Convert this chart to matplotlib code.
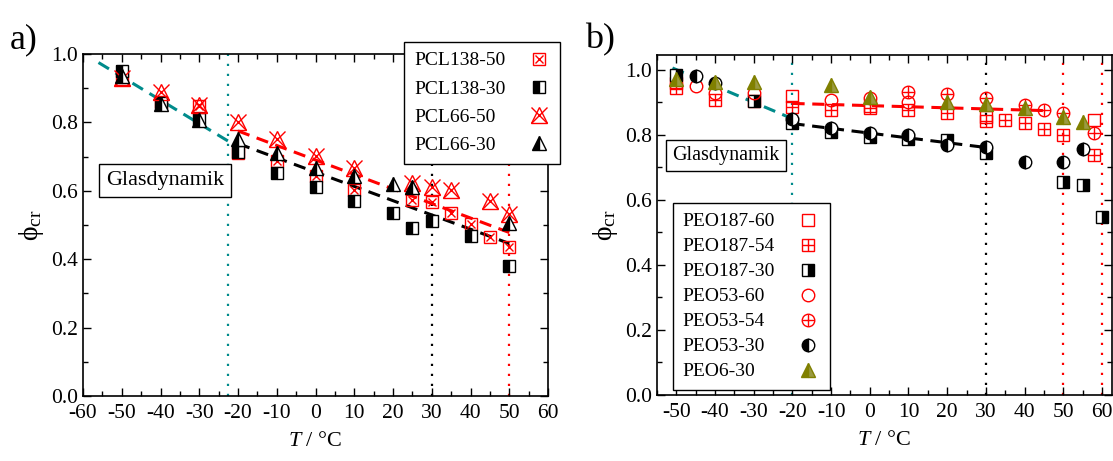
import numpy as np
import matplotlib
matplotlib.use('Agg')
import matplotlib.pyplot as plt
from matplotlib.ticker import MultipleLocator
from matplotlib.legend_handler import HandlerTuple

plt.rcParams['font.family'] = ['Liberation Serif', 'DejaVu Serif']
plt.rcParams['mathtext.fontset'] = 'custom'
plt.rcParams['mathtext.rm'] = 'Liberation Serif'
plt.rcParams['mathtext.it'] = 'Liberation Serif:italic'
plt.rcParams['axes.unicode_minus'] = False

RED = '#ff0000'
TEAL = '#008b8b'
OLIVE = '#808000'

# ---- panel a) PCL data ----
pcl138_50_T = [-50, -40, -30, -20, -10, 0, 10, 25, 30, 35, 40, 45, 50]
pcl138_50_p = [0.928, 0.860, 0.848, 0.710, 0.688, 0.644, 0.603, 0.574, 0.566, 0.536, 0.504, 0.464, 0.437]
pcl138_30_T = [-50, -40, -30, -20, -10, 0, 10, 20, 25, 30, 40, 50]
pcl138_30_p = [0.950, 0.857, 0.810, 0.712, 0.653, 0.612, 0.571, 0.536, 0.490, 0.513, 0.468, 0.379]
pcl66_50_T = [-50, -40, -30, -20, -10, 0, 10, 25, 30, 35, 45, 50]
pcl66_50_p = [0.930, 0.889, 0.850, 0.802, 0.752, 0.703, 0.668, 0.624, 0.612, 0.603, 0.571, 0.533]
pcl66_30_T = [-50, -40, -30, -20, -10, 0, 10, 20, 25, 50]
pcl66_30_p = [0.935, 0.855, 0.808, 0.752, 0.711, 0.668, 0.644, 0.621, 0.610, 0.507]

fit_a_glass_T = [-56, -22.5]
fit_a_glass_p = [0.975, 0.745]
fit_a_red_T = [-20, 50]
fit_a_red_p = [0.775, 0.478]
fit_a_black_T = [-20, 50]
fit_a_black_p = [0.738, 0.446]
vlines_a = [(-22.5, TEAL), (30, 'black'), (50, RED)]

# ---- panel b) PEO data ----
peo187_60_T = [-50, -20, 0, 30, 58]
peo187_60_p = [0.960, 0.920, 0.890, 0.855, 0.846]
peo187_54_T = [-50, -40, -30, -20, -10, 0, 10, 20, 30, 35, 40, 45, 50, 58]
peo187_54_p = [0.945, 0.908, 0.905, 0.886, 0.877, 0.883, 0.877, 0.868, 0.843, 0.846, 0.837, 0.818, 0.800, 0.738]
peo187_30_T = [-50, -30, -20, -10, 0, 10, 20, 30, 50, 55, 60]
peo187_30_p = [0.985, 0.905, 0.837, 0.809, 0.794, 0.787, 0.785, 0.745, 0.655, 0.646, 0.548]
peo53_60_T = [-45, -40, -30, -10, 0, 10]
peo53_60_p = [0.950, 0.929, 0.930, 0.908, 0.914, 0.901]
peo53_54_T = [10, 20, 30, 40, 45, 50, 58]
peo53_54_p = [0.932, 0.926, 0.914, 0.892, 0.877, 0.868, 0.806]
peo53_30_T = [-45, -40, -20, -10, 0, 10, 20, 30, 40, 50, 55]
peo53_30_p = [0.980, 0.960, 0.850, 0.821, 0.806, 0.800, 0.769, 0.763, 0.717, 0.717, 0.757]
peo6_30_T = [-50, -40, -30, -10, 0, 20, 30, 40, 50, 55]
peo6_30_p = [0.972, 0.963, 0.963, 0.954, 0.917, 0.900, 0.895, 0.883, 0.855, 0.840]

fit_b_glass_T = [-51, -21]
fit_b_glass_p = [1.006, 0.855]
fit_b_red_T = [-20, 45]
fit_b_red_p = [0.897, 0.875]
fit_b_black_T = [-20, 31]
fit_b_black_p = [0.835, 0.760]
vlines_b = [(-20, TEAL), (30, 'black'), (50, RED), (60, RED)]

W, H = 1113, 461
fig = plt.figure(figsize=(W / 100, H / 100), dpi=100)
axa = fig.add_axes([83 / W, 1 - 396 / H, (548 - 83) / W, (396 - 54) / H])
axb = fig.add_axes([657 / W, 1 - 395 / H, (1112 - 657) / W, (395 - 55) / H])

dash = (0, (4, 2.5))
dot = (0, (1, 3.5))


def style_axes(ax):
    ax.tick_params(which='both', direction='in', top=True, right=True, labelsize=15.5, width=1)
    ax.tick_params(which='major', length=6)
    ax.tick_params(which='minor', length=3.5)
    ax.tick_params(axis='x', which='both', pad=6)
    ax.xaxis.set_major_locator(MultipleLocator(10))
    ax.xaxis.set_minor_locator(MultipleLocator(5))
    ax.yaxis.set_major_locator(MultipleLocator(0.2))
    ax.yaxis.set_minor_locator(MultipleLocator(0.1))
    ax.yaxis.set_major_formatter(plt.FormatStrFormatter('%.1f'))
    for s in ax.spines.values():
        s.set_linewidth(1.2)
    ax.set_xlabel('$T$ / °C', fontsize=16, labelpad=6)
    ax.set_ylabel('ϕ$_{\\rm cr}$', fontsize=20, labelpad=4)


def open_marker(ax, T, p, m, ms, color=RED, mew=1.0):
    return ax.plot(T, p, ls='none', marker=m, ms=ms, mfc='none', mec=color, mew=mew)[0]


def make_legend(ax, handles, labels, loc, anchor, spacing):
    leg = ax.legend(handles, labels, handler_map={tuple: HandlerTuple(ndivide=1)},
                    loc=loc, bbox_to_anchor=anchor, bbox_transform=fig.transFigure,
                    markerfirst=False, numpoints=1, handlelength=1.2, fontsize=14,
                    labelspacing=spacing, fancybox=False, edgecolor='black',
                    framealpha=1, borderpad=0.5, borderaxespad=0, handletextpad=1.1)
    leg.get_frame().set_linewidth(1.0)
    leg.set_zorder(5)
    return leg


def left_align(leg):
    # text left, marker column right (legend default right-aligns the labels)
    r = fig.canvas.get_renderer()
    widths = [t.get_window_extent(r).width for t in leg.get_texts()]
    mx = max(widths)
    rows = leg._legend_handle_box.get_children()[0].get_children()
    for row, w in zip(rows, widths):
        row.sep += (mx - w) * 72 / fig.dpi


# ---------- panel a ----------
ax = axa
for x, c in vlines_a:
    ax.axvline(x, color=c, ls=dot, lw=1.6, zorder=1)
ax.plot(fit_a_glass_T, fit_a_glass_p, color=TEAL, ls=dash, lw=2.2, zorder=2)
ax.plot(fit_a_red_T, fit_a_red_p, color=RED, ls=dash, lw=2.2, zorder=2)
ax.plot(fit_a_black_T, fit_a_black_p, color='black', ls=dash, lw=2.2, zorder=2)

h1a = open_marker(ax, pcl138_50_T, pcl138_50_p, 's', 8)
h1b = open_marker(ax, pcl138_50_T, pcl138_50_p, 'x', 6)
h2 = ax.plot(pcl138_30_T, pcl138_30_p, ls='none', marker='s', ms=8, fillstyle='left',
             mfc='black', mfcalt='white', mec='black', mew=1.0)[0]
h3a = open_marker(ax, pcl66_50_T, pcl66_50_p, '^', 12)
h3b = open_marker(ax, pcl66_50_T, pcl66_50_p, 'x', 11)
h4 = ax.plot(pcl66_30_T, pcl66_30_p, ls='none', marker='^', ms=10, fillstyle='left',
             mfc='black', mfcalt='white', mec='black', mew=1.0)[0]

ax.set_xlim(-60, 60)
ax.set_ylim(0, 1.0)
ax.set_xticks(np.arange(-60, 61, 10))
style_axes(ax)
ax.text(-38.8, 0.63, 'Glasdynamik', fontsize=16, ha='center', va='center',
        bbox=dict(boxstyle='square,pad=0.3', fc='white', ec='black', lw=1))
leg_a = make_legend(ax, [(h1a, h1b), h2, (h3a, h3b), h4],
                    ['PCL138-50', 'PCL138-30', 'PCL66-50', 'PCL66-30'],
                    'upper right', (560 / W, 1 - 42 / H), 0.55)

# ---------- panel b ----------
ax = axb
for x, c in vlines_b:
    ax.axvline(x, color=c, ls=dot, lw=1.6, zorder=1)
ax.plot(fit_b_glass_T, fit_b_glass_p, color=TEAL, ls=dash, lw=2.2, zorder=2)
ax.plot(fit_b_red_T, fit_b_red_p, color=RED, ls=dash, lw=2.2, zorder=2)
ax.plot(fit_b_black_T, fit_b_black_p, color='black', ls=dash, lw=2.2, zorder=2)

g1 = open_marker(ax, peo187_60_T, peo187_60_p, 's', 9)
g2a = open_marker(ax, peo187_54_T, peo187_54_p, 's', 9)
g2b = open_marker(ax, peo187_54_T, peo187_54_p, '+', 9)
g3 = ax.plot(peo187_30_T, peo187_30_p, ls='none', marker='s', ms=8, fillstyle='right',
             mfc='black', mfcalt='white', mec='black', mew=1.0)[0]
g4 = open_marker(ax, peo53_60_T, peo53_60_p, 'o', 9)
g5a = open_marker(ax, peo53_54_T, peo53_54_p, 'o', 9)
g5b = open_marker(ax, peo53_54_T, peo53_54_p, '+', 9)
g6 = ax.plot(peo53_30_T, peo53_30_p, ls='none', marker='o', ms=9, fillstyle='left',
             mfc='black', mfcalt='white', mec='black', mew=1.0)[0]
g7 = ax.plot(peo6_30_T, peo6_30_p, ls='none', marker='^', ms=10, fillstyle='left',
             mfc=OLIVE, mfcalt='#9a9a40', mec=OLIVE, mew=1.0)[0]

ax.set_xlim(-55, 62.6)
ax.set_ylim(0, 1.046)
ax.set_xticks(np.arange(-50, 61, 10))
style_axes(ax)
ax.text(-37.2, 0.738, 'Glasdynamik', fontsize=14.5, ha='center', va='center',
        bbox=dict(boxstyle='square,pad=0.3', fc='white', ec='black', lw=1))
leg_b = make_legend(ax, [g1, (g2a, g2b), g3, g4, (g5a, g5b), g6, g7],
                    ['PEO187-60', 'PEO187-54', 'PEO187-30', 'PEO53-60', 'PEO53-54',
                     'PEO53-30', 'PEO6-30'],
                    'upper left', (673 / W, 1 - 203 / H), 0.38)

fig.text(10 / W, 1 - 40 / H, 'a)', fontsize=26, va='center', ha='left')
fig.text(585 / W, 1 - 40 / H, 'b)', fontsize=26, va='center', ha='left')

fig.canvas.draw()
left_align(leg_a)
left_align(leg_b)

fig.savefig('out.png', dpi=100)
